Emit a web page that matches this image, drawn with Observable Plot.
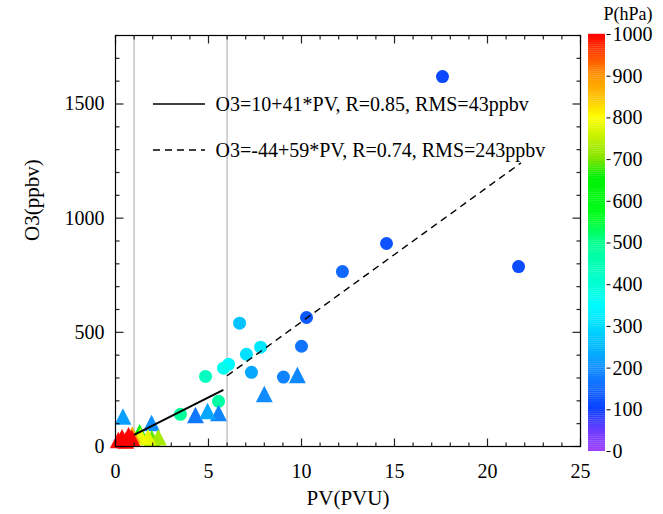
<!DOCTYPE html>
<html><head><meta charset="utf-8">
<script src="https://cdn.jsdelivr.net/npm/d3@7"></script>
<script src="https://cdn.jsdelivr.net/npm/@observablehq/plot@0.6"></script>
<style>
body{margin:0;background:#fff}
#c{position:relative;width:663px;height:514px}
#c svg{position:absolute;top:0}
</style>
</head><body><div id="c"></div>
<script>
// ---- data ----
const circlePV = [17.58, 14.57, 12.2, 21.67, 10.27, 10.0, 9.03, 6.67, 7.04, 7.8, 7.31, 6.08, 5.81, 4.84, 5.54, 3.49];
const circleO3 = [1620, 889, 766, 788, 565, 439, 304, 540, 404, 435, 325, 360, 343, 307, 198, 141];
const circleP  = [110, 125, 150, 115, 130, 165, 185, 265, 310, 320, 230, 345, 370, 430, 470, 485];

const triPV = [9.78, 8.0, 4.3, 4.95, 5.54, 0.4, 1.94, 0.3, 1.3, 0.9, 1.35, 1.75, 2.3, 1.95, 0.15, 0.35, 0.7, 0.88, 0.55];
const triO3 = [312, 229, 137, 155, 146, 130, 102, 30, 62, 52, 45, 40, 40, 35, 28, 40, 48, 36, 25];
const triP  = [190, 195, 170, 230, 185, 220, 200, 380, 640, 880, 790, 780, 730, 690, 990, 1000, 1000, 1000, 1000];

const fitIntercept = [10, -44];
const fitSlope = [41, 59];
const fitFrom = [1.0, 6.0];
const fitTo = [5.8, 21.8];
const fitLabel = ["O3=10+41*PV, R=0.85, RMS=43ppbv", "O3=-44+59*PV, R=0.74, RMS=243ppbv"];
const pvBounds = [1, 6];

const xMajor = [0, 5, 10, 15, 20, 25];
const xMinor = [1, 2, 3, 4, 6, 7, 8, 9, 11, 12, 13, 14, 16, 17, 18, 19, 21, 22, 23, 24];
const yMajor = [0, 500, 1000, 1500];
const yMinor = [100, 200, 300, 400, 600, 700, 800, 900, 1100, 1200, 1300, 1400, 1600, 1700, 1800];
const pTicks = [0, 100, 200, 300, 400, 500, 600, 700, 800, 900, 1000];

const colorStops = [0, 50, 100, 150, 200, 250, 300, 350, 400, 500, 560, 660, 700, 750, 800, 850, 900, 950, 1000];
const colorRamp = ["#a040ff","#6a3cff","#0a40ff","#1068ff","#1090ff","#00b8ff","#00dcff","#00fcff","#00ffd4","#00ff90","#00ff20","#00f000","#80e400","#c0f000","#ffff00","#ffc000","#ff9400","#ff4800","#ff0000"];

// ---- tables ----
const circles = circlePV.map((x, i) => ({PV: x, O3: circleO3[i], P: circleP[i]}));
const tris = triPV.map((x, i) => ({PV: x, O3: triO3[i], P: triP[i]})).sort((a, b) => a.P - b.P);
const fits = fitIntercept.map((a, i) => ({x1: fitFrom[i], x2: fitTo[i], y1: a + fitSlope[i] * fitFrom[i], y2: a + fitSlope[i] * fitTo[i]}));

const serif = "Liberation Serif, Times New Roman, serif";
const colorOpts = {type: "linear", domain: colorStops, range: colorRamp, interpolate: "rgb", clamp: true};

const triSymbol = {draw(ctx, size) {
  const r = Math.sqrt(size / Math.PI), h = r * 1.3;
  ctx.moveTo(0, -h); ctx.lineTo(h, h * 0.95); ctx.lineTo(-h, h * 0.95); ctx.closePath();
}};
// short tick segments as dot symbols: (dx, dy) is the direction, len in pixels
const tickSymbol = (dx, dy, len) => ({draw(ctx) { ctx.moveTo(0, 0); ctx.lineTo(dx * len, dy * len); }});

const W = 663, H = 514;
const mL = 115, mR = 83, mT = 35, mB = 68;
const XMAX = 25, YMAX = 1800;
const tickStyle = {stroke: "#222", strokeWidth: 1.2, fill: "none"};
const tickDots = [];
[[xMajor, 8], [xMinor, 4]].forEach(([vals, len]) => {
  tickDots.push(Plot.dot(vals, {x: d => d, y: () => 0, symbol: tickSymbol(0, -1, len), ...tickStyle}));
  tickDots.push(Plot.dot(vals, {x: d => d, y: () => YMAX, symbol: tickSymbol(0, 1, len), ...tickStyle}));
});
[[yMajor, 8], [yMinor, 4]].forEach(([vals, len]) => {
  tickDots.push(Plot.dot(vals, {y: d => d, x: () => 0, symbol: tickSymbol(1, 0, len), ...tickStyle}));
  tickDots.push(Plot.dot(vals, {y: d => d, x: () => XMAX, symbol: tickSymbol(-1, 0, len), ...tickStyle}));
});

const main = Plot.plot({
  width: W, height: H,
  marginLeft: mL, marginRight: mR, marginTop: mT, marginBottom: mB,
  x: {domain: [0, XMAX], axis: null},
  y: {domain: [0, YMAX], axis: null},
  color: colorOpts,
  style: {fontFamily: serif, fontSize: "20px", color: "black"},
  marks: [
    Plot.ruleX(pvBounds, {stroke: "#c4c4c4", strokeWidth: 1.5}),
    Plot.dot(circles, {x: "PV", y: "O3", fill: "P", r: 6.5, symbol: "circle"}),
    Plot.dot(tris, {x: "PV", y: "O3", fill: "P", r: 6.5, symbol: triSymbol}),
    Plot.link(fits.slice(0, 1), {x1: "x1", y1: "y1", x2: "x2", y2: "y2", stroke: "black", strokeWidth: 2}),
    Plot.link(fits.slice(1), {x1: "x1", y1: "y1", x2: "x2", y2: "y2", stroke: "black", strokeWidth: 1.4, strokeDasharray: "7,5"}),
    ...tickDots,
    Plot.frame({stroke: "black", strokeWidth: 1.2}),
    Plot.text(xMajor, {x: d => d, text: d => String(d), frameAnchor: "bottom", dy: 25, lineAnchor: "middle", fontSize: 20, fontFamily: serif}),
    Plot.text(yMajor, {y: d => d, text: d => String(d), frameAnchor: "left", dx: -11, textAnchor: "end", lineAnchor: "middle", fontSize: 20, fontFamily: serif}),
    Plot.text(["PV(PVU)"], {frameAnchor: "bottom", dy: 52, lineAnchor: "middle", fontSize: 21, fontFamily: serif}),
    Plot.text(["O3(ppbv)"], {frameAnchor: "left", dx: -83, rotate: -90, lineAnchor: "middle", fontSize: 21, fontFamily: serif}),
    Plot.text(fitLabel.slice(0, 1), {frameAnchor: "top-left", dx: 100, dy: 69, lineAnchor: "middle", textAnchor: "start", fontSize: 20, fontFamily: serif}),
    Plot.text(fitLabel.slice(1), {frameAnchor: "top-left", dx: 100, dy: 115, lineAnchor: "middle", textAnchor: "start", fontSize: 20, fontFamily: serif})
  ]
});

// legend line samples
const msvg = d3.select(main);
fitLabel.forEach((t, i) => {
  msvg.append("line").attr("x1", 153).attr("x2", 205).attr("y1", 104 + i * 46).attr("y2", 104 + i * 46)
    .attr("stroke", "black").attr("stroke-width", 1.3).attr("stroke-dasharray", i === 0 ? null : "7,5");
});

// colour bar: separate small plot placed over the right-hand margin
const bins = d3.range(0, 1000, 5);
const bar = Plot.plot({
  width: 77, height: H,
  marginLeft: 2, marginRight: 58, marginTop: 34, marginBottom: 63,
  x: {domain: [0, 1], axis: null},
  y: {domain: [0, 1000], axis: null},
  color: colorOpts,
  style: {background: "transparent", fontFamily: serif, fontSize: "20px", overflow: "visible"},
  marks: [
    Plot.rect(bins, {x1: 0, x2: 1, y1: d => d, y2: d => d + 5.5, fill: d => d + 2.5}),
    Plot.dot(pTicks, {y: d => d, x: () => 1, dx: 1, symbol: tickSymbol(1, 0, 4), stroke: "black", strokeWidth: 1, fill: "none"}),
    Plot.text(pTicks, {y: d => d, text: d => String(d), frameAnchor: "right", dx: 7, textAnchor: "start", lineAnchor: "middle", fontSize: 20, fontFamily: serif}),
    Plot.text(["P(hPa)"], {frameAnchor: "top", dx: 31, dy: -20, lineAnchor: "middle", fontSize: 18, fontFamily: serif})
  ]
});

const c = document.getElementById("c");
main.style.left = "0px";
bar.style.left = "586px";
c.appendChild(main);
c.appendChild(bar);
</script>
</body></html>
